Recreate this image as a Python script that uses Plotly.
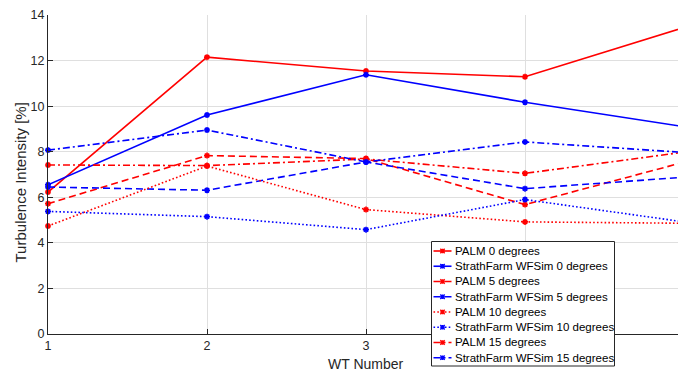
import plotly.graph_objects as go

# Wind turbine index along the row
wt_number = [1, 2, 3, 4, 5]
x_ticks = [1, 2, 3, 4]
x_tick_text = ["1", "2", "3", ""]  # label at 4 sits behind the legend box
y_ticks = [0, 2, 4, 6, 8, 10, 12, 14]

# Turbulence intensity [%] per turbine
palm_0 = [6.23, 12.15, 11.54, 11.29, 13.45]
strath_0 = [6.55, 9.61, 11.38, 10.17, 9.10]
palm_5 = [5.72, 7.83, 7.70, 5.68, 7.54]
strath_5 = [6.45, 6.31, 7.55, 6.38, 6.88]
palm_10 = [4.74, 7.37, 5.46, 4.92, 4.86]
strath_10 = [5.38, 5.15, 4.58, 5.90, 4.92]
palm_15 = [7.42, 7.39, 7.68, 7.05, 7.98]
strath_15 = [8.07, 8.95, 7.55, 8.43, 7.97]

DASHED = "7px,4px"
DOTTED = "1.6px,2.2px"
DASHDOT = "7px,3px,2px,3px"

series = [
    ("PALM 0 degrees", palm_0, "#ff0000", "solid"),
    ("StrathFarm WFSim 0 degrees", strath_0, "#0000ff", "solid"),
    ("PALM 5 degrees", palm_5, "#ff0000", DASHED),
    ("StrathFarm WFSim 5 degrees", strath_5, "#0000ff", DASHED),
    ("PALM 10 degrees", palm_10, "#ff0000", DOTTED),
    ("StrathFarm WFSim 10 degrees", strath_10, "#0000ff", DOTTED),
    ("PALM 15 degrees", palm_15, "#ff0000", DASHDOT),
    ("StrathFarm WFSim 15 degrees", strath_15, "#0000ff", DASHDOT),
]

W, H = 678, 372
ML, MR, MT, MB = 48, 0, 15, 38
PW, PH = W - ML - MR, H - MT - MB
axis_color = "#262626"


def px(xpix):
    """Pixel column -> paper x."""
    return (xpix - ML) / PW


def py(ypix):
    """Pixel row -> paper y."""
    return (H - MB - ypix) / PH


fig = go.Figure()
for name, values, color, dash in series:
    fig.add_trace(go.Scatter(
        x=wt_number, y=values, name=name, mode="lines+markers",
        line=dict(color=color, width=1.6, dash=dash),
        marker=dict(symbol="asterisk-open", size=5, color=color,
                    line=dict(color=color, width=1.6)),
        cliponaxis=False, showlegend=False,
    ))

# Compact boxed legend in the lower right, overlapping the axis area
shapes = [dict(type="rect", xref="paper", yref="paper",
               x0=px(431.5), x1=px(614.5), y0=py(241.5), y1=py(366),
               fillcolor="white", line=dict(color=axis_color, width=1))]
annotations = []
row0, row_step = 251.0, 15.24
for i, (name, values, color, dash) in enumerate(series):
    cy = row0 + row_step * i
    shapes.append(dict(type="line", xref="paper", yref="paper",
                       x0=px(433.5), x1=px(451.5), y0=py(cy), y1=py(cy),
                       line=dict(color=color, width=1.6, dash=dash)))
    mx, r = 442.5, 2.2
    star = (f"M{px(mx - r)},{py(cy)} L{px(mx + r)},{py(cy)} "
            f"M{px(mx)},{py(cy - r)} L{px(mx)},{py(cy + r)} "
            f"M{px(mx - r)},{py(cy - r)} L{px(mx + r)},{py(cy + r)} "
            f"M{px(mx - r)},{py(cy + r)} L{px(mx + r)},{py(cy - r)}")
    shapes.append(dict(type="path", xref="paper", yref="paper", path=star,
                       line=dict(color=color, width=1.4)))
    annotations.append(dict(xref="paper", yref="paper", x=px(452.5), y=py(cy),
                            xanchor="left", yanchor="middle", showarrow=False,
                            text=name, font=dict(size=11.5, color="#000000")))

# Axis titles
annotations.append(dict(xref="paper", yref="paper", x=px(366), y=py(364),
                        xanchor="center", yanchor="middle", showarrow=False,
                        text="WT Number", font=dict(size=14, color=axis_color)))
annotations.append(dict(xref="paper", yref="paper", x=px(19.5), y=py(183),
                        xanchor="center", yanchor="middle", showarrow=False,
                        textangle=-90, text="Turbulence Intensity [%]",
                        font=dict(size=15, color=axis_color)))

fig.update_layout(
    width=W, height=H,
    margin=dict(l=ML, r=MR, t=MT, b=MB, pad=0),
    paper_bgcolor="white", plot_bgcolor="white",
    font=dict(family="Liberation Sans, Arial, sans-serif", size=12.5, color=axis_color),
    showlegend=False,
    shapes=shapes,
    annotations=annotations,
    xaxis=dict(
        range=[1, 1 + PW / 159.0], tickvals=x_ticks, ticktext=x_tick_text,
        showgrid=True, gridcolor="#dfdfdf", gridwidth=1,
        showline=True, linecolor=axis_color, linewidth=1,
        ticks="inside", ticklen=5, tickcolor=axis_color,
        zeroline=False, automargin=False,
    ),
    yaxis=dict(
        range=[0, 14], tickvals=y_ticks,
        showgrid=True, gridcolor="#dfdfdf", gridwidth=1,
        showline=True, linecolor=axis_color, linewidth=1,
        ticks="inside", ticklen=5, tickcolor=axis_color,
        zeroline=False, automargin=False,
    ),
)

fig.write_html("out.html")
